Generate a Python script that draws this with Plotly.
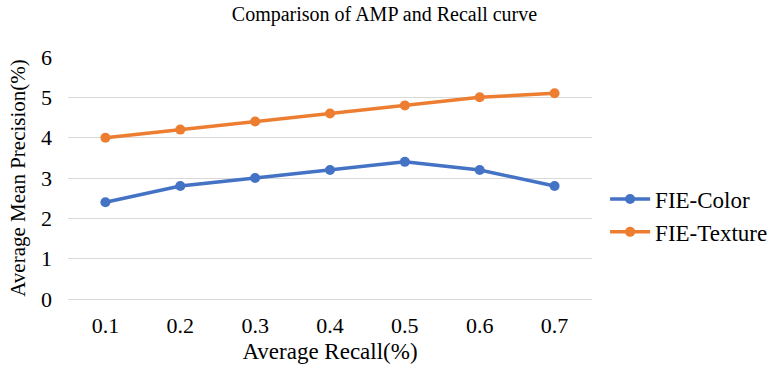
import plotly.graph_objects as go

categories = ["0.1", "0.2", "0.3", "0.4", "0.5", "0.6", "0.7"]
fie_color = [2.4, 2.8, 3.0, 3.2, 3.4, 3.2, 2.8]
fie_texture = [4.0, 4.2, 4.4, 4.6, 4.8, 5.0, 5.1]

font = "Liberation Serif, Times New Roman, serif"

fig = go.Figure()
fig.add_trace(go.Scatter(x=categories, y=fie_color, name="FIE-Color", mode="lines+markers",
                         line=dict(color="#4472C4", width=3.5), marker=dict(size=10, color="#4472C4")))
fig.add_trace(go.Scatter(x=categories, y=fie_texture, name="FIE-Texture", mode="lines+markers",
                         line=dict(color="#ED7D31", width=3.5), marker=dict(size=10, color="#ED7D31")))

fig.update_layout(
    width=769, height=370,
    margin=dict(l=68, r=177, t=57, b=71, autoexpand=False),
    paper_bgcolor="white", plot_bgcolor="white",
    font=dict(family=font, size=21, color="#000000"),
    title=dict(text="Comparison of AMP and Recall curve", x=0.5, xanchor="center",
               y=0.962, yanchor="middle", font=dict(family=font, size=20, color="#000000")),
    xaxis=dict(type="category", showgrid=False, showline=False, ticks="", zeroline=False,
               tickfont=dict(size=22), range=[-0.5, 6.5], ticklabelstandoff=11,
               title=dict(text="Average Recall(%)", font=dict(size=23), standoff=5)),
    yaxis=dict(range=[0, 6], dtick=1, showgrid=True, gridcolor="#D9D9D9", gridwidth=1,
               zeroline=True, zerolinecolor="#D9D9D9", zerolinewidth=1,
               showline=False, ticks="", tickfont=dict(size=22), ticklabelstandoff=15,
               title=dict(text="Average Mean Precision(%)", font=dict(size=21), standoff=9)),
    legend=dict(x=1.025, y=0.345, xanchor="left", yanchor="middle", font=dict(size=23),
                tracegroupgap=2, itemwidth=40),
)

fig.write_html("out.html")
